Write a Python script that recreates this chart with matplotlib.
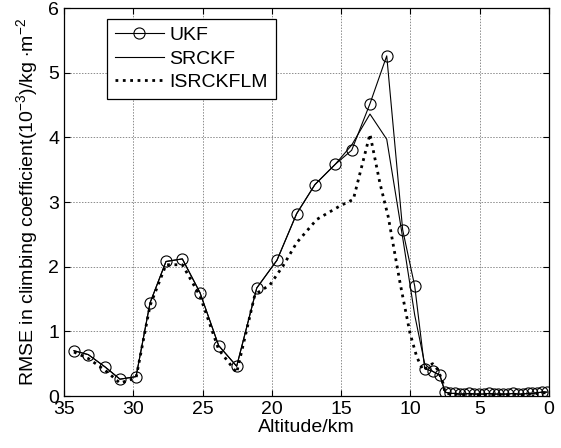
import matplotlib
matplotlib.use('Agg')
import matplotlib.pyplot as plt

plt.rcParams['font.family'] = ['Liberation Sans', 'DejaVu Sans']
plt.rcParams['mathtext.fontset'] = 'custom'
plt.rcParams['mathtext.rm'] = 'Liberation Sans'
plt.rcParams['mathtext.it'] = 'Liberation Sans:italic'

# altitude (km) and RMSE values
low_alt = [7.15, 6.80, 6.45, 6.10, 5.75, 5.40, 5.05, 4.70, 4.35, 4.00, 3.65,
           3.30, 2.95, 2.60, 2.25, 1.90, 1.55, 1.20, 0.85, 0.50, 0.15]
low_rmse = [0.04, 0.04, 0.03, 0.03, 0.04, 0.03, 0.03, 0.03, 0.04, 0.03, 0.03,
            0.03, 0.03, 0.04, 0.03, 0.03, 0.04, 0.04, 0.05, 0.06, 0.06]

alt = [34.28, 33.25, 32.04, 30.96, 29.80, 28.79, 27.64, 26.46, 25.19, 23.84,
       22.54, 21.09, 19.63, 18.21, 16.89, 15.44, 14.24, 12.92, 11.71, 10.56,
       9.69, 8.97, 8.39, 7.87, 7.50] + low_alt
ukf = [0.70, 0.64, 0.45, 0.26, 0.30, 1.44, 2.08, 2.12, 1.60, 0.78,
       0.46, 1.67, 2.10, 2.82, 3.27, 3.58, 3.80, 4.52, 5.26, 2.57,
       1.70, 0.42, 0.38, 0.32, 0.06] + low_rmse
srckf = [0.70, 0.64, 0.45, 0.26, 0.30, 1.44, 2.08, 2.12, 1.60, 0.78,
         0.46, 1.67, 2.10, 2.82, 3.27, 3.58, 3.88, 4.36, 3.97, 2.45,
         1.25, 0.50, 0.38, 0.32, 0.06] + low_rmse

alt_lm = [34.28, 33.25, 32.04, 30.96, 29.80, 28.79, 27.64, 26.46, 25.19, 23.84,
          22.54, 21.22, 20.13, 19.17, 18.21, 16.76, 15.08, 14.12, 12.92, 12.20,
          11.60, 10.75, 10.03, 9.55, 9.10, 8.40, 8.00, 7.65, 7.50] + low_alt
isrckflm = [0.68, 0.58, 0.40, 0.20, 0.28, 1.40, 2.03, 2.03, 1.55, 0.72,
            0.36, 1.57, 1.72, 2.02, 2.37, 2.73, 2.94, 3.04, 4.05, 3.29,
            2.77, 1.75, 0.97, 0.61, 0.40, 0.50, 0.40, 0.20, 0.05] + \
           [0.03, 0.03, 0.02, 0.02, 0.03, 0.02, 0.02, 0.02, 0.03, 0.02, 0.02,
            0.02, 0.02, 0.03, 0.02, 0.02, 0.03, 0.03, 0.04, 0.05, 0.05]

fig = plt.figure(figsize=(5.61, 4.48), dpi=100)
ax = fig.add_axes([64 / 561, 52 / 448, 485 / 561, 388 / 448])

ax.plot(alt, ukf, color='black', lw=0.8, marker='o', ms=8, mfc='none',
        mec='black', mew=0.8, label='UKF')
ax.plot(alt, srckf, color='black', lw=0.8, label='SRCKF')
ax.plot(alt_lm, isrckflm, color='black', lw=2.0, ls=':', label='ISRCKFLM')

ax.set_xlim(35, 0)
ax.set_ylim(0, 6)
ax.set_xticks([35, 30, 25, 20, 15, 10, 5, 0])
ax.set_yticks([0, 1, 2, 3, 4, 5, 6])
ax.grid(True, color='0.55', ls=(0, (1.5, 1.5)), lw=0.7)
ax.tick_params(direction='in', top=True, right=True, labelsize=14, length=4)
for s in ax.spines.values():
    s.set_linewidth(0.9)

ax.set_xlabel('Altitude/km', fontsize=14, labelpad=1)
ax.set_ylabel(r'RMSE in climbing coefficient(10$^{-3}$)/kg $\cdot$m$^{-2}$',
              fontsize=14, labelpad=6)

leg = ax.legend(loc='upper left', bbox_to_anchor=(0.089, 0.972),
                borderaxespad=0, fontsize=14, fancybox=False,
                edgecolor='black', framealpha=1, handlelength=2.5,
                handletextpad=0.3, labelspacing=0.3, borderpad=0.4)
leg.get_frame().set_linewidth(0.9)

fig.savefig('out.png', dpi=100)
